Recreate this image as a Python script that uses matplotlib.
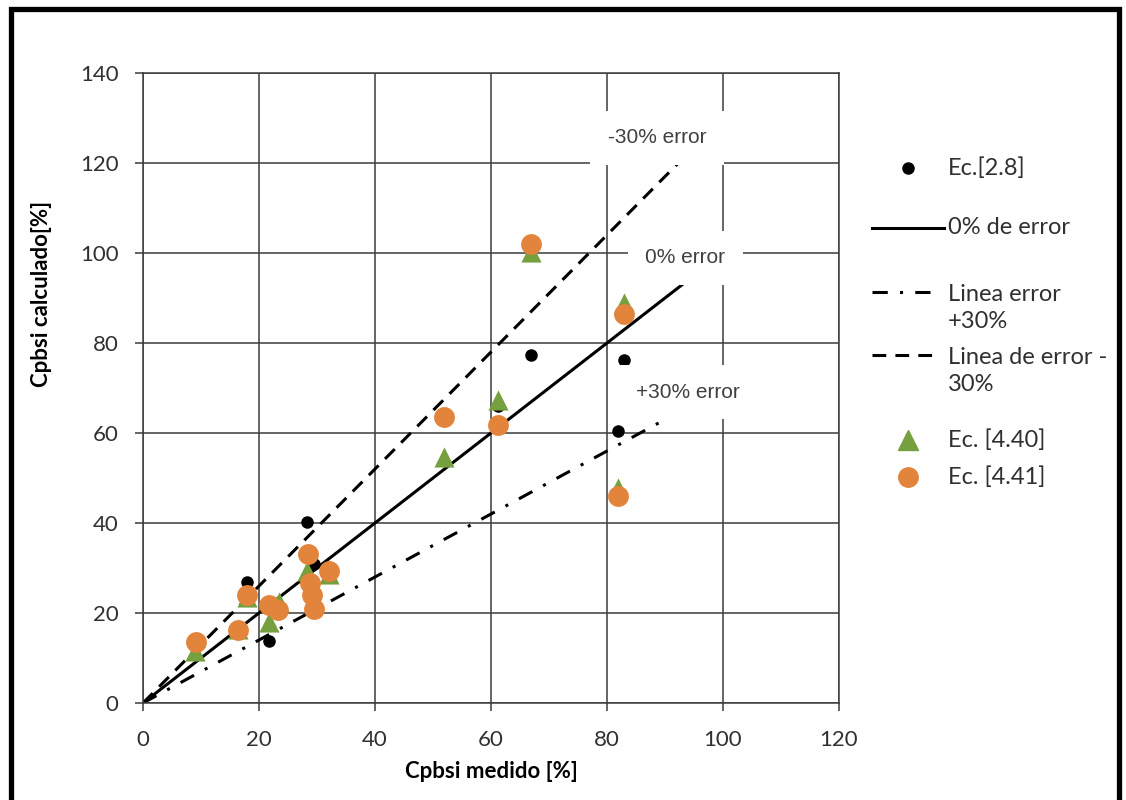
import numpy as np
import matplotlib
matplotlib.use('Agg')
import matplotlib.pyplot as plt
from matplotlib.lines import Line2D
from matplotlib.patches import Rectangle

# values
x_ec28 = [18.0, 21.8, 28.2, 29.4, 61.2, 66.9, 81.9, 82.9]
y_ec28 = [26.8, 13.8, 40.3, 31.0, 66.0, 77.3, 60.4, 76.2]

x_ec440 = [9.0, 16.3, 18.0, 21.8, 23.5, 28.3, 32.1, 51.9, 61.2, 66.9, 81.9, 82.9]
y_ec440 = [11.5, 16.5, 23.5, 18.1, 22.5, 29.4, 28.6, 54.7, 67.4, 100.3, 47.7, 88.8]

x_ec441 = [9.2, 16.3, 18.0, 21.8, 23.3, 28.4, 28.8, 29.2, 29.4, 32.1, 51.9, 61.2, 66.9, 81.9, 82.9]
y_ec441 = [13.6, 16.2, 24.0, 21.8, 20.7, 33.1, 26.6, 24.0, 21.0, 29.4, 63.6, 61.8, 102.0, 46.0, 86.5]

# reference error lines: y = factor * x
line_x = [0, 95]
factor_0 = 1.0
factor_minus30 = 1.3
factor_plus30 = 0.7

x_ticks = [0, 20, 40, 60, 80, 100, 120]
y_ticks = [0, 20, 40, 60, 80, 100, 120, 140]

legend_labels = ['Ec.[2.8]', '0% de error', 'Linea error\n+30%',
                 'Linea de error -\n30%', 'Ec. [4.40]', 'Ec. [4.41]']

orange = '#E3843C'
green = '#76A03E'
grid_col = '#3c3c3c'
txt_col = '#303030'

W, H = 1126, 800
fig = plt.figure(figsize=(W / 100, H / 100), dpi=100)
ax = fig.add_axes([143 / W, 1 - 703 / H, (839 - 143) / W, (703 - 73) / H])

# error lines
lx = np.array(line_x, dtype=float)
ax.plot(lx, factor_0 * lx, color='black', lw=2.2, zorder=2)
ax.plot(lx, factor_minus30 * lx, color='black', lw=2.2, ls=(0, (4.5, 3.0)), zorder=2)
ax.plot(lx, factor_plus30 * lx, color='black', lw=2.2, ls=(0, (5, 4, 1, 4)), zorder=2)

# data
ax.scatter(x_ec28, y_ec28, s=64, color='black', zorder=3)
ax.scatter(x_ec440, y_ec440, s=210, marker='^', color=green, zorder=4, linewidths=0)
ax.scatter(x_ec441, y_ec441, s=225, marker='o', color=orange, zorder=5, linewidths=0)

# line labels with white boxes
box = dict(facecolor='white', edgecolor='none', boxstyle='square,pad=0.85')
lab_font = dict(family='Liberation Sans', fontsize=15, color='#404040', zorder=6)
ax.text(88.6, 125.6, '-30% error', ha='center', va='center', bbox=box, **lab_font)
ax.text(93.5, 98.9, '0% error', ha='center', va='center', bbox=box, **lab_font)
ax.text(94.0, 69.1, '+30% error', ha='center', va='center', bbox=box, **lab_font)

ax.set_xlim(0, 120)
ax.set_ylim(0, 140)
ax.set_xticks(x_ticks)
ax.set_yticks(y_ticks)
ax.grid(True, color=grid_col, lw=1.1, zorder=0.5)
ax.set_axisbelow(True)
for sp in ax.spines.values():
    sp.set_color(grid_col)
    sp.set_linewidth(1.1)
ax.tick_params(direction='out', length=5.5, width=1.1, color=grid_col,
               labelsize=16, labelcolor=txt_col)
ax.tick_params(axis='y', pad=12)
ax.tick_params(axis='x', pad=14)
for t in ax.get_xticklabels() + ax.get_yticklabels():
    t.set_family('Lato')

ax.set_xlabel('Cpbsi medido [%]', fontsize=16, fontweight='bold', family='Lato',
              color='black', labelpad=8)
ax.set_ylabel('Cpbsi calculado[%]', fontsize=16, fontweight='bold', family='Lato',
              color='black', labelpad=10)
ax.yaxis.set_label_coords(-0.131, 0.65)

# legend drawn by hand to follow the uneven spacing of the original
def fy(py):
    return 1 - py / H

def fx(px):
    return px / W

handles = [
    dict(marker='o', ms=8, color='black', ls='none'),
    dict(color='black', lw=2.2),
    dict(color='black', lw=2.2, ls=(0, (5, 4, 1, 4))),
    dict(color='black', lw=2.2, ls=(0, (4.5, 3.0))),
    dict(marker='^', ms=14, color=green, ls='none'),
    dict(marker='o', ms=14, color=orange, ls='none'),
]
handle_y = [168, 228, 292, 355, 440, 477]
text_y = [168, 228, 308, 371, 440, 477]
handle_x0 = [872, 872, 872, 872, 872, 872]
handle_x1 = [944, 944, 930, 940, 944, 944]
for h, hy, ty, x0, x1, lab in zip(handles, handle_y, text_y, handle_x0, handle_x1, legend_labels):
    if h.get('ls') == 'none':
        xs = [fx(908)]
        ys = [fy(hy)]
    else:
        xs = [fx(x0), fx(x1)]
        ys = [fy(hy), fy(hy)]
    fig.add_artist(Line2D(xs, ys, transform=fig.transFigure, **h))
    fig.text(fx(948), fy(ty), lab, fontsize=17, family='Lato', color=txt_col,
             ha='left', va='center', linespacing=1.35)

# thick frame around the whole picture
fig.add_artist(Rectangle((fx(10.5), -0.05), fx(1119) - fx(10.5), fy(9) + 0.05,
                         transform=fig.transFigure, fill=False, lw=3.8,
                         edgecolor='black', clip_on=False))

fig.savefig('out.png', dpi=100)
